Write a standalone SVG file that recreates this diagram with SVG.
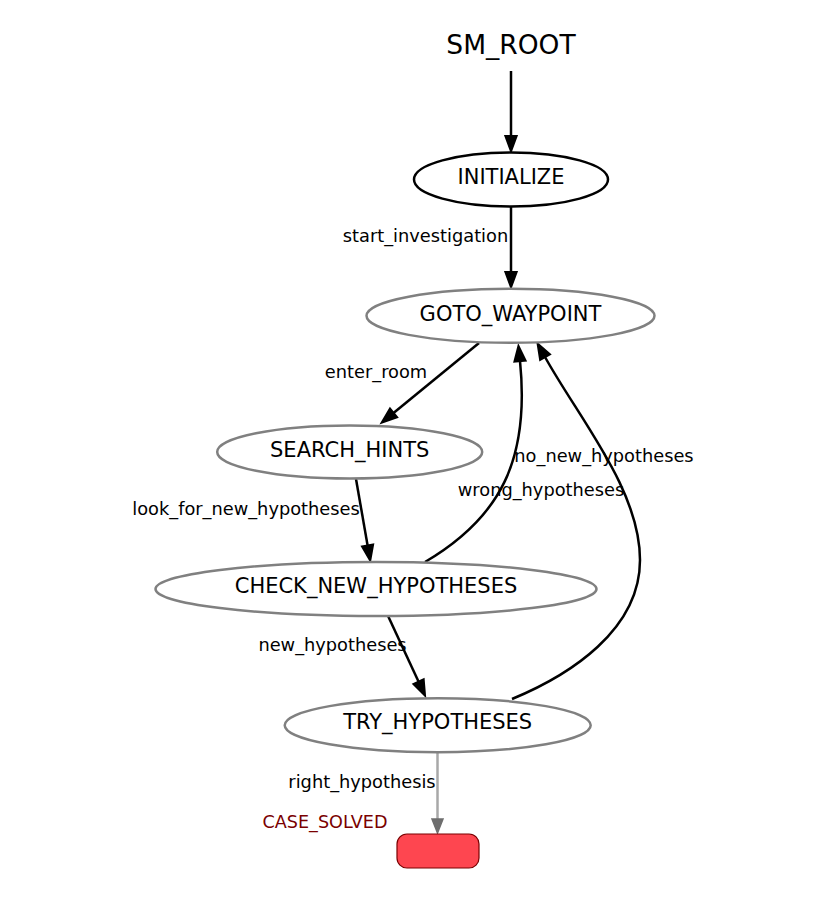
<svg xmlns="http://www.w3.org/2000/svg" width="826" height="907" viewBox="0 0 826 907">
<style>
  .node { fill: #ffffff; stroke: #808080; stroke-width: 2.5; }
  .init { stroke: #000000; }
  .nlabel { font-family: "DejaVu Sans", sans-serif; font-size: 21px; fill: #000000; text-anchor: middle; }
  .elabel { font-family: "DejaVu Sans", sans-serif; font-size: 17.8px; fill: #000000; text-anchor: middle; }
  .edge { fill: none; stroke: #000000; stroke-width: 2.5; marker-end: url(#head); }
  .outedge { fill: none; stroke: #a8a8a8; stroke-width: 2.5; marker-end: url(#grayhead); }
</style>
<defs>
  <marker id="head" markerUnits="userSpaceOnUse" viewBox="-2 -8 20 16" refX="0" refY="0" markerWidth="20" markerHeight="16" orient="auto" overflow="visible">
    <polygon points="0,-5.5 15,0 0,5.5" fill="#000000" stroke="#000000" stroke-width="2.2" stroke-linejoin="miter"/>
  </marker>
  <marker id="grayhead" markerUnits="userSpaceOnUse" viewBox="-2 -8 20 16" refX="0" refY="0" markerWidth="20" markerHeight="16" orient="auto" overflow="visible">
    <polygon points="0,-5.5 14,0 0,5.5" fill="#6e6e6e" stroke="#6e6e6e" stroke-width="1.5"/>
  </marker>
</defs>
<rect width="826" height="907" fill="#ffffff"/>

<g id="SM_ROOT">
  <text x="511" y="53.5" font-family="DejaVu Sans, sans-serif" font-size="26.5" text-anchor="middle" fill="#000000">SM_ROOT</text>
</g>

<g id="connectors">
  <path class="edge" d="M511,71 L511,136"/>
  <path class="edge" d="M511,207 L511,272"/>
  <text class="elabel" x="425.5" y="242">start_investigation</text>
  <path class="edge" d="M479,343 L393.5,413"/>
  <text class="elabel" x="376" y="378">enter_room</text>
  <path class="edge" d="M356,479 L367.6,545.5"/>
  <text class="elabel" x="246" y="515">look_for_new_hypotheses</text>
  <path class="edge" d="M425,562 C500,518 530,460 520,361"/>
  <text class="elabel" x="541" y="496">wrong_hypotheses</text>
  <path class="edge" d="M512,699 C570,675 640,630 640,560 C640,490 580,420 545,357"/>
  <text class="elabel" x="604" y="462">no_new_hypotheses</text>
  <path class="edge" d="M388.3,616.5 L418.6,681.8"/>
  <text class="elabel" x="332.5" y="651">new_hypotheses</text>
  <path class="outedge" d="M437.5,753 L437.5,819"/>
  <text class="elabel" x="362" y="788">right_hypothesis</text>
</g>

<g id="INITIALIZE">
  <ellipse class="node init" cx="511" cy="179.5" rx="97" ry="27"/>
  <text class="nlabel" x="511" y="183.5">INITIALIZE</text>
</g>

<g id="GOTO_WAYPOINT">
  <ellipse class="node" cx="510.5" cy="315.8" rx="144" ry="27"/>
  <text class="nlabel" x="510.5" y="320.5">GOTO_WAYPOINT</text>
</g>

<g id="SEARCH_HINTS">
  <ellipse class="node" cx="349.7" cy="452" rx="132.5" ry="26.5"/>
  <text class="nlabel" x="349.7" y="457">SEARCH_HINTS</text>
</g>

<g id="CHECK_NEW_HYPOTHESES">
  <ellipse class="node" cx="376" cy="589" rx="220.5" ry="27"/>
  <text class="nlabel" x="376" y="592.5">CHECK_NEW_HYPOTHESES</text>
</g>

<g id="TRY_HYPOTHESES">
  <ellipse class="node" cx="437.7" cy="725.2" rx="153" ry="27"/>
  <text class="nlabel" x="437.7" y="728.5">TRY_HYPOTHESES</text>
</g>

<g id="CASE_SOLVED">
  <rect x="397" y="834" width="82" height="34" rx="10" ry="10" fill="#fe4650" stroke="#7a0000" stroke-width="1.2"/>
  <text x="325" y="828.3" font-family="DejaVu Sans, sans-serif" font-size="17.6" text-anchor="middle" fill="#7a0000">CASE_SOLVED</text>
</g>
</svg>
